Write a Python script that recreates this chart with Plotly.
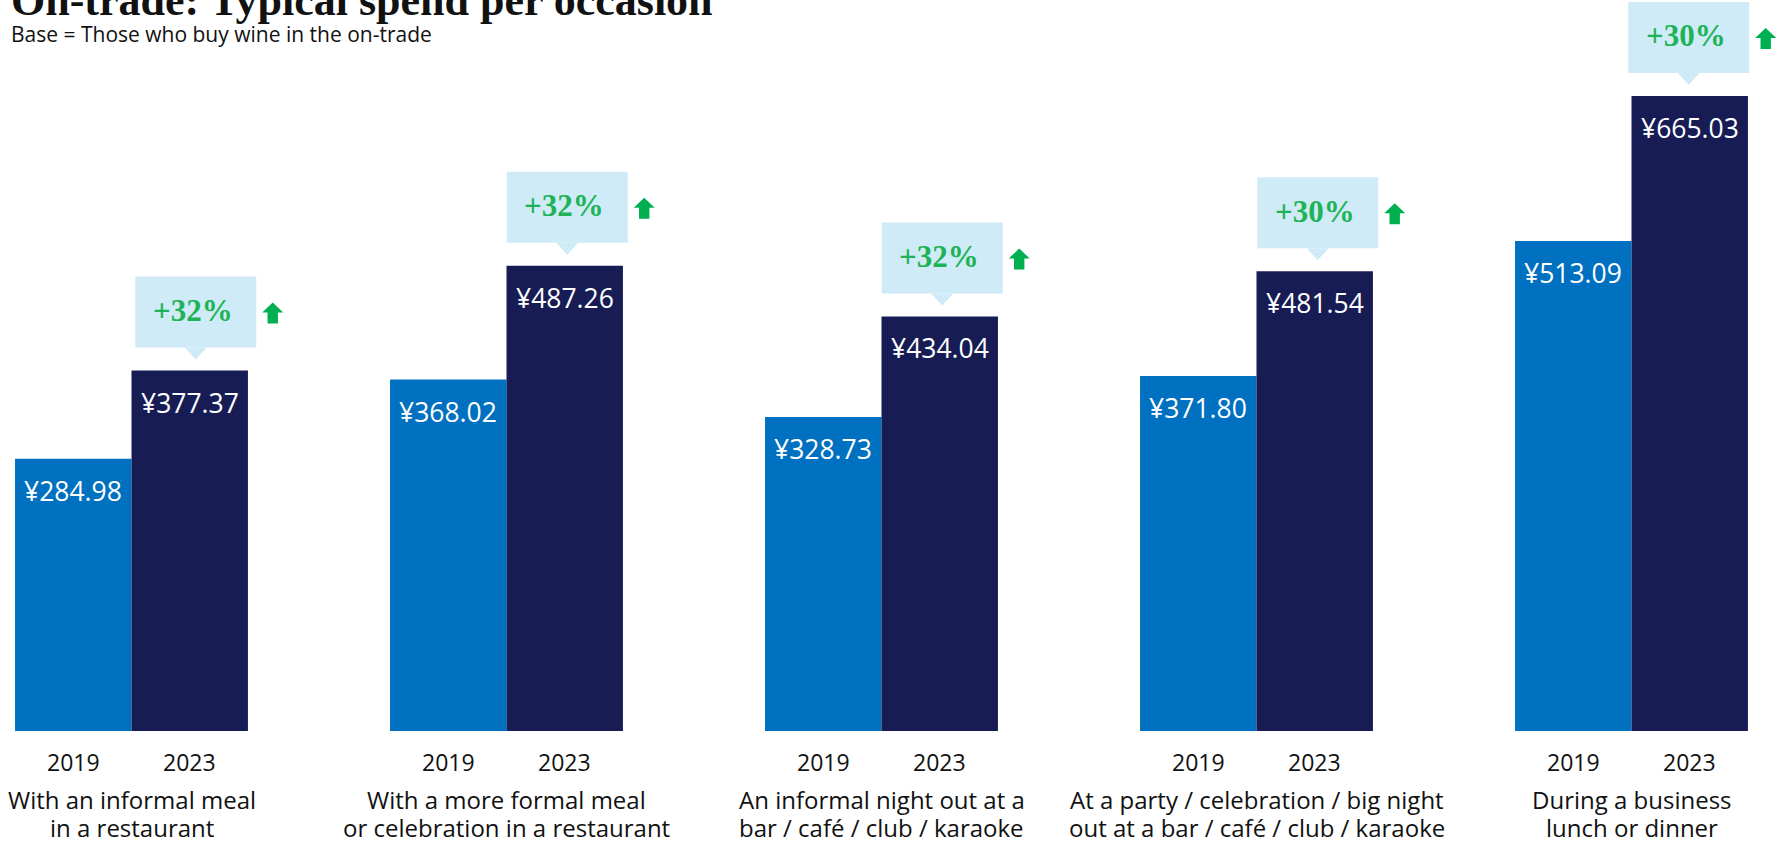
import plotly.graph_objects as go

# Occasion categories (one list entry per label line) and typical spend per occasion
categories = [
    ["With an informal meal", "in a restaurant"],
    ["With a more formal meal", "or celebration in a restaurant"],
    ["An informal night out at a", "bar / café / club / karaoke"],
    ["At a party / celebration / big night", "out at a bar / café / club / karaoke"],
    ["During a business", "lunch or dinner"],
]
years = ["2019", "2023"]
spend_2019 = [284.98, 368.02, 328.73, 371.80, 513.09]
spend_2023 = [377.37, 487.26, 434.04, 481.54, 665.03]

COLOR_2019 = "#0070C0"
COLOR_2023 = "#171D54"
CALLOUT_BG = "#CFEBF7"
GREEN_TXT = "#1DB356"
GREEN_ARROW = "#00B050"
SANS = "Open Sans"
SERIF = "Liberation Serif"
INK = "#111111"

BARGAP = 0.379
half = (1 - BARGAP) / 4  # offset of each bar centre from its category centre

# horizontal nudge (px) of each growth callout relative to its 2023 bar centre
CALLOUT_NUDGE = [6, 2.5, 2.5, 3, -1]

idx = list(range(len(categories)))

fig = go.Figure()
fig.add_trace(go.Bar(x=idx, y=spend_2019, name=years[0], marker=dict(color=COLOR_2019, line=dict(width=0))))
fig.add_trace(go.Bar(x=idx, y=spend_2023, name=years[1], marker=dict(color=COLOR_2023, line=dict(width=0))))

annotations = []
shapes = []

for i, (lines, v19, v23) in enumerate(zip(categories, spend_2019, spend_2023)):
    x19, x23 = i - half, i + half
    # value labels inside the bar tops
    for xv, v in ((x19, v19), (x23, v23)):
        annotations.append(dict(x=xv, y=v, xref="x", yref="y", text=f"¥{v:.2f}",
                                showarrow=False, yanchor="middle", yshift=-32,
                                font=dict(family=SANS, size=26.5, color="white")))
    # year labels under each bar
    for xv, yr in ((x19, years[0]), (x23, years[1])):
        annotations.append(dict(x=xv, y=0, xref="x", yref="y", text=yr, showarrow=False,
                                yanchor="middle", yshift=-31,
                                font=dict(family=SANS, size=23, color=INK)))
    # occasion label, one annotation per line
    for k, line in enumerate(lines):
        annotations.append(dict(x=i, y=0, xref="x", yref="y", text=line, showarrow=False,
                                yanchor="middle", yshift=-68 - 28 * k,
                                font=dict(family=SANS, size=24, color=INK)))

    # growth callout above the 2023 bar (box centred at c px from the bar centre)
    pct = round((v23 / v19 - 1) * 100)
    c = CALLOUT_NUDGE[i]
    common = dict(xref="x", yref="y", xsizemode="pixel", ysizemode="pixel",
                  xanchor=x23, yanchor=v23, line=dict(width=0), layer="above")
    shapes.append(dict(type="rect", x0=c - 60.5, x1=c + 60.5, y0=23, y1=94,
                       fillcolor=CALLOUT_BG, **common))
    shapes.append(dict(type="path", path=f"M {c-11},23 L {c+11},23 L {c},11 Z",
                       fillcolor=CALLOUT_BG, **common))
    ax = c + 77  # arrow centre
    shapes.append(dict(type="path",
                       path=(f"M {ax},68 L {ax+10.5},58 L {ax+5.2},58 L {ax+5.2},47 "
                             f"L {ax-5.2},47 L {ax-5.2},58 L {ax-10.5},58 Z"),
                       fillcolor=GREEN_ARROW, **common))
    annotations.append(dict(x=x23, y=v23, xref="x", yref="y", text=f"<b>+{pct}%</b>",
                            showarrow=False, yanchor="middle", yshift=60, xshift=c - 3,
                            font=dict(family=SERIF, size=31, color=GREEN_TXT)))

# heading
annotations.append(dict(x=0, y=1, xref="paper", yref="paper", xanchor="left", yanchor="middle",
                        xshift=9, yshift=0, showarrow=False,
                        text="<b>On-trade: Typical spend per occasion</b>",
                        font=dict(family=SERIF, size=44, color=INK)))
annotations.append(dict(x=0, y=1, xref="paper", yref="paper", xanchor="left", yanchor="middle",
                        xshift=9, yshift=-34, showarrow=False,
                        text="Base = Those who buy wine in the on-trade",
                        font=dict(family=SANS, size=21, color=INK)))

PX_PER_CAT = 375.0
X0 = -131.5 / PX_PER_CAT
fig.update_layout(
    width=1778, height=842,
    margin=dict(l=0, r=0, t=0, b=111),
    barmode="group", bargap=BARGAP, bargroupgap=0,
    paper_bgcolor="white", plot_bgcolor="white",
    showlegend=False,
    xaxis=dict(range=[X0, X0 + 1778 / PX_PER_CAT], visible=False, fixedrange=True),
    yaxis=dict(range=[0, 731 / 0.955], visible=False, fixedrange=True),
    annotations=annotations, shapes=shapes,
)

fig.write_html("out.html", config={"displayModeBar": False})
